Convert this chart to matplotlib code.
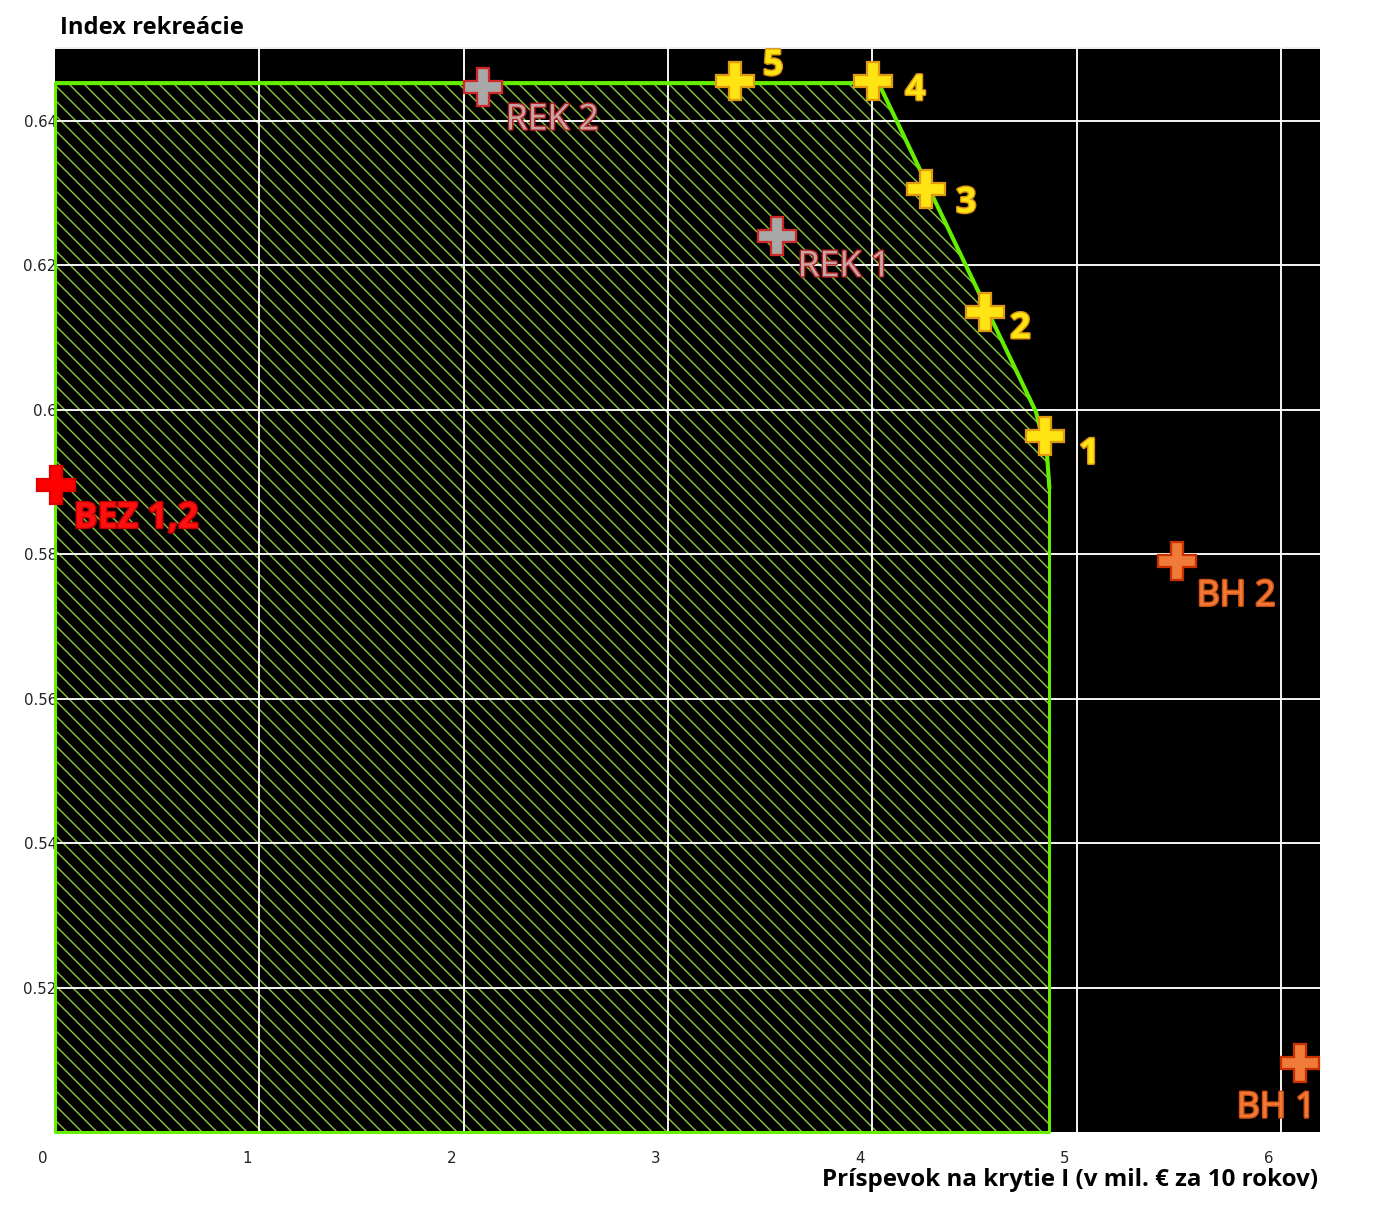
import matplotlib.pyplot as plt
import matplotlib.patheffects as pe
import matplotlib.transforms as mtransforms
from matplotlib.patches import Polygon

# data
frontier_x = [0.0, 4.03, 4.80, 4.855, 4.866, 4.866, 0.0]
frontier_y = [0.6452, 0.6452, 0.5997, 0.5935, 0.589, 0.50, 0.50]

opt_labels = ['5', '4', '3', '2', '1']
opt_x = [3.328, 4.004, 4.263, 4.552, 4.845]
opt_y = [0.6455, 0.6455, 0.6306, 0.6135, 0.5964]

rek_labels = ['REK 2', 'REK 1']
rek_x = [2.096, 3.534]
rek_y = [0.6446, 0.6240]

bez_labels = ['BEZ 1,2']
bez_x = [0.005]
bez_y = [0.5896]

bh_labels = ['BH 2', 'BH 1']
bh_x = [5.491, 6.093]
bh_y = [0.5791, 0.5095]

xticks = [0, 1, 2, 3, 4, 5, 6]
yticks = [0.52, 0.54, 0.56, 0.58, 0.60, 0.62, 0.64]
ytick_labels = ['0.52', '0.54', '0.56', '0.58', '0.6', '0.62', '0.64']

DPI = 135
plt.rcParams['hatch.linewidth'] = 0.75

fig = plt.figure(figsize=(1386 / DPI, 1215 / DPI), dpi=DPI)
ax = fig.add_axes([55 / 1386, 1 - 1132 / 1215, (1320 - 55) / 1386, (1132 - 47) / 1215])
ax.set_facecolor('black')
ax.set_xlim(0, 6.19)
ax.set_ylim(0.5, 0.6502)
for s in ax.spines.values():
    s.set_visible(False)

# grid incl. the line at 0.65 on the top edge
for x in xticks[1:]:
    ax.axvline(x, color='white', lw=1.0, zorder=1.5)
for y in yticks + [0.65]:
    ax.axhline(y, color='white', lw=1.0, zorder=1.5)

# hatched feasible region
poly = Polygon(list(zip(frontier_x, frontier_y)), closed=True, facecolor='black',
               edgecolor='#8cc83c', hatch='\\\\\\', lw=0, zorder=1)
ax.add_patch(poly)
ax.plot(frontier_x[:5], frontier_y[:5], color='#66ee00', lw=2.2, zorder=2,
        solid_capstyle='butt', clip_on=False)
ax.plot(frontier_x[4:] + [0.0, 0.0], frontier_y[4:] + [0.50, 0.6452], color='#66ee00',
        lw=1.6, zorder=2, clip_on=False)

ms = 20

def draw_group(xs, ys, labels, face, edge, tcol, tedge, offsets, weight, size):
    ax.plot(xs, ys, 'P', ms=ms, mfc=face, mec=edge, mew=1.2, ls='none',
            zorder=5, clip_on=False)
    for x, y, lab, off in zip(xs, ys, labels, offsets):
        ax.annotate(lab, (x, y), xytext=off, textcoords='offset pixels',
                    ha='center', va='center', color=tcol, fontsize=size,
                    fontweight=weight, family='Open Sans', zorder=6,
                    path_effects=[pe.withStroke(linewidth=1.5, foreground=tedge)])

draw_group(opt_x, opt_y, opt_labels, '#ffe414', '#e09a10', '#ffe414', '#d89010',
           [(38, 15), (42, -10), (40, -15), (35, -17), (44, -19)], 'bold', 19)
draw_group(rek_x, rek_y, rek_labels, '#a8a8a8', '#d02828', '#c8a4a4', '#b02020',
           [(69, -33), (67, -31)], 'normal', 19)
draw_group(bez_x, bez_y, bez_labels, '#ff0000', '#e00000', '#ff1010', '#c00000',
           [(80, -34)], 'bold', 19)
draw_group(bh_x, bh_y, bh_labels, '#f07a38', '#c83000', '#f07a38', '#d05010',
           [(59, -36), (-24, -45)], 'normal', 19)

# ticks
ax.set_xticks(xticks)
ax.set_xticklabels([str(v) for v in xticks])
ax.set_yticks(yticks)
ax.set_yticklabels(ytick_labels)
ax.tick_params(length=0, labelsize=8, labelcolor='#222222', pad=10)
ax.tick_params(axis='y', pad=-1)
shift = mtransforms.ScaledTranslation(-12 / DPI, 0, fig.dpi_scale_trans)
for lab in ax.get_xticklabels():
    lab.set_transform(lab.get_transform() + shift)

fig.text(60 / 1386, 1 - 28 / 1215, 'Index rekreácie', ha='left', va='center',
         fontsize=12.7, fontweight='bold', family='Open Sans', color='black')
fig.text(1318 / 1386, 1 - 1180 / 1215, 'Príspevok na krytie I (v mil. € za 10 rokov)',
         ha='right', va='center', fontsize=12.9, fontweight='bold', family='Open Sans',
         color='black')

fig.savefig('out.png', dpi=DPI, facecolor='white')
